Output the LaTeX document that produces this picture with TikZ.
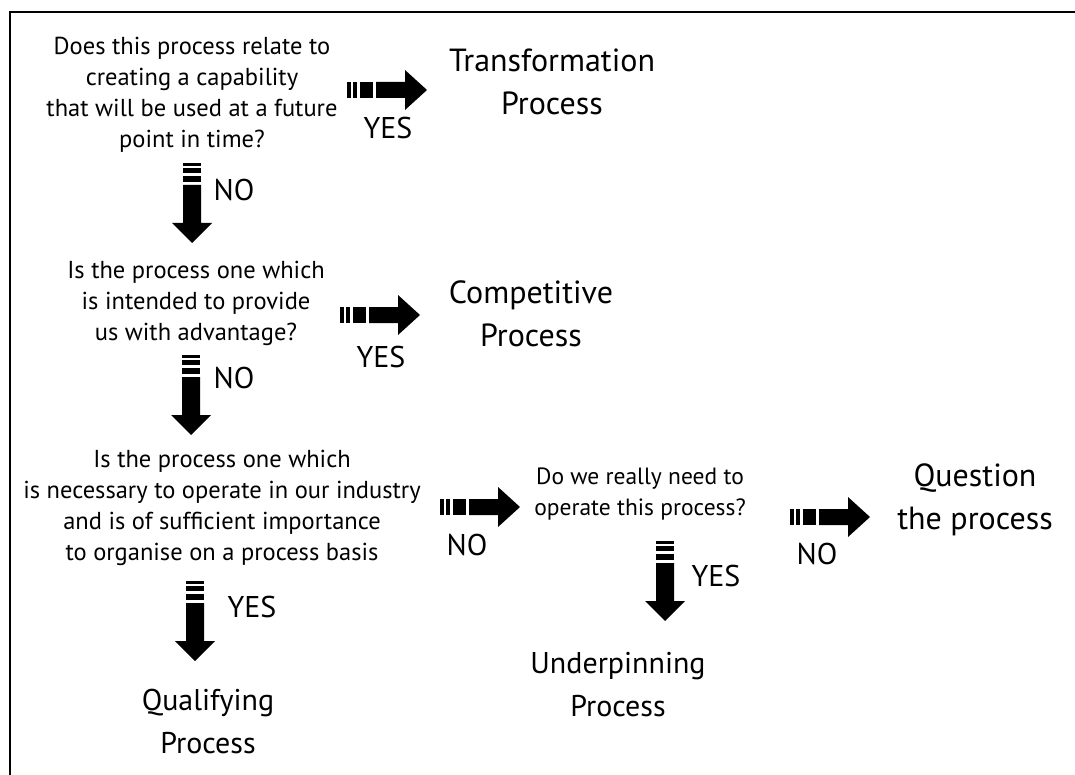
\documentclass[tikz,border=0pt]{standalone}
\usepackage{fontspec}
\setmainfont{PT Sans}
\begin{document}
\begin{tikzpicture}[x=1pt,y=-1pt,
  question/.style={align=center,font=\fontsize{24.5}{31}\selectfont,inner sep=0pt},
  outcome/.style={align=center,font=\fontsize{32}{43}\selectfont,inner sep=0pt},
  smalloutcome/.style={outcome,font=\fontsize{30}{43}\selectfont},
  answer/.style={font=\fontsize{30}{32}\selectfont,inner sep=0pt},
  frameline/.style={line width=2pt,line cap=rect},
  % broken block arrow pointing right, 80 long
  harrow/.pic={
    \fill (0,-8) rectangle (4,8);
    \fill (6,-8) rectangle (10,8);
    \fill (13,-8) rectangle (26,8);
    \fill (29,-8) -- (58,-8) -- (58,-20) -- (80,0) -- (58,20) -- (58,8) -- (29,8) -- cycle;
  },
  % broken block arrow pointing down, 80 long
  varrow/.pic={
    \fill (-9,0) rectangle (9,3);
    \fill (-9,5) rectangle (9,10);
    \fill (-9,13) rectangle (9,19);
    \fill (-9,22) -- (-9,60) -- (-20,60) -- (0,80) -- (20,60) -- (9,60) -- (9,22) -- cycle;
  }
]
\useasboundingbox (0,0) rectangle (1075,775);

% frame on the top and left sides
\draw[frameline] (10,775) -- (10,12) -- (1075,12);

% questions
\node[question] (q1) at (192,95) {Does this process relate to\\creating a capability\\that will be used at a future\\point in time?};
\node[question] (q2) at (196,303) {Is the process one which\\is intended to provide\\us with advantage?};
\node[question] (q3) at (222,508) {Is the process one which\\is necessary to operate in our industry\\and is of sufficient importance\\to organise on a process basis};
\node[question,font=\fontsize{23.5}{31}\selectfont] (q4) at (640,494) {Do we really need to\\operate this process?};

% outcomes
\node[outcome] (transform) at (552,82) {Transformation\\Process};
\node[outcome] (compet) at (531,314) {Competitive\\Process};
\node[outcome] (questionit) at (975,500) {Question\\the process};
\node[smalloutcome] (underpin) at (618,685) {Underpinning\\Process};
\node[smalloutcome] (qualify) at (208,721) {Qualifying\\Process};

% arrow positions
\coordinate (a1) at (347,90);
\coordinate (a2) at (340,315);
\coordinate (a3) at (440,507);
\coordinate (a4) at (790,517);
\coordinate (d1) at (192,163);
\coordinate (d2) at (191,355);
\coordinate (d3) at (665,541);
\coordinate (d4) at (195,581);

\pic at (a1) {harrow};
\pic at (a2) {harrow};
\pic at (a3) {harrow};
\pic at (a4) {harrow};
\pic at (d1) {varrow};
\pic at (d2) {varrow};
\pic at (d3) {varrow};
\pic at (d4) {varrow};

% answers
\node[answer] (y1) at (388,128) {YES};
\node[answer] (y2) at (381,357) {YES};
\node[answer] (n3) at (467,545) {NO};
\node[answer] (n4) at (817,554) {NO};
\node[answer] (n1) at (234,190) {NO};
\node[answer] (n2) at (234,378) {NO};
\node[answer] (y3) at (716,576) {YES};
\node[answer] (y4) at (252,607) {YES};
\end{tikzpicture}
\end{document}
